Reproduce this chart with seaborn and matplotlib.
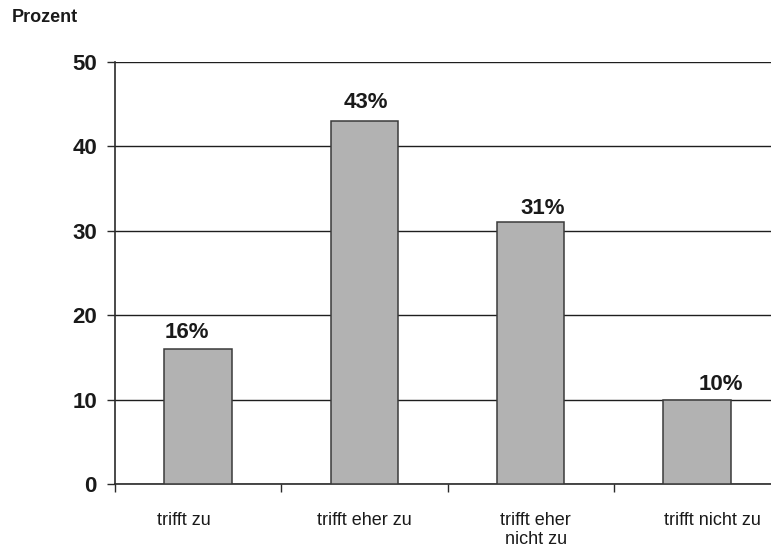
import matplotlib
matplotlib.use("Agg")
import matplotlib.pyplot as plt
import matplotlib.transforms as mtransforms
import seaborn as sns
import pandas as pd

# Survey answers and their shares in percent
categories = ["trifft zu", "trifft eher zu", "trifft eher\nnicht zu", "trifft nicht zu"]
values = [16, 43, 31, 10]
value_labels = ["16%", "43%", "31%", "10%"]
y_ticks = [0, 10, 20, 30, 40, 50]

# hand-placed nudges (pixels) for the value labels and category labels
label_nudge = [(-11, 11), (1, 13), (12, 8), (24, 10)]
cat_nudge = [-14, 0, 5, 16]

sns.set_theme(style="white")
plt.rcParams["font.family"] = ["Liberation Sans", "DejaVu Sans"]

W, H, DPI = 771, 550, 100
fig = plt.figure(figsize=(W / DPI, H / DPI), dpi=DPI)
ax = fig.add_axes([115 / W, 1 - 484 / H, (780 - 115) / W, (484 - 62) / H])

df = pd.DataFrame({"Antwort": categories, "Prozent": values})
sns.barplot(data=df, x="Antwort", y="Prozent", color="#b2b2b2",
            edgecolor="#3a3a3a", linewidth=1.1, width=0.405,
            saturation=1, ax=ax, zorder=3)

ax.set_xlim(-0.5, len(categories) - 0.5)
ax.set_ylim(0, 50)
ax.set_yticks(y_ticks)
ax.set_yticklabels([str(t) for t in y_ticks], fontsize=16, fontweight="bold",
                   color="#1a1a1a")
ax.yaxis.grid(True, color="#1e1e1e", linewidth=1.0, zorder=0)
ax.set_axisbelow(True)

# category boundaries get the tick marks, names sit between them
ax.set_xticks([i - 0.5 for i in range(len(categories) + 1)])
ax.set_xticklabels([])
ax.set_xticks(range(len(categories)), minor=True)
ax.set_xticklabels(categories, minor=True, fontsize=13, color="#1a1a1a",
                   linespacing=1.15)
ax.tick_params(axis="x", which="major", direction="out", length=6, width=1,
               color="#2a2a2a", bottom=True)
ax.tick_params(axis="x", which="minor", length=0, pad=20)
ax.tick_params(axis="y", direction="out", length=6, width=1,
               color="#2a2a2a", left=True, pad=7)

for lbl, dx in zip(ax.get_xticklabels(minor=True), cat_nudge):
    lbl.set_transform(lbl.get_transform() +
                      mtransforms.ScaledTranslation(dx / DPI, 0, fig.dpi_scale_trans))

ax.set_xlabel("")
ax.set_ylabel("")
for side in ["top", "right"]:
    ax.spines[side].set_visible(False)
for side in ["left", "bottom"]:
    ax.spines[side].set_color("#2a2a2a")
    ax.spines[side].set_linewidth(1.2)

for i, (v, txt) in enumerate(zip(values, value_labels)):
    dx, dy = label_nudge[i]
    ax.annotate(txt, xy=(i, v), xytext=(dx * 0.72, dy * 0.72),
                textcoords="offset points", ha="center", va="baseline",
                fontsize=16, fontweight="bold", color="#1a1a1a")

fig.text(12 / W, 1 - 17 / H, "Prozent", ha="left", va="center",
         fontsize=13, fontweight="bold", color="#1a1a1a")

fig.savefig("out.png", dpi=DPI)
